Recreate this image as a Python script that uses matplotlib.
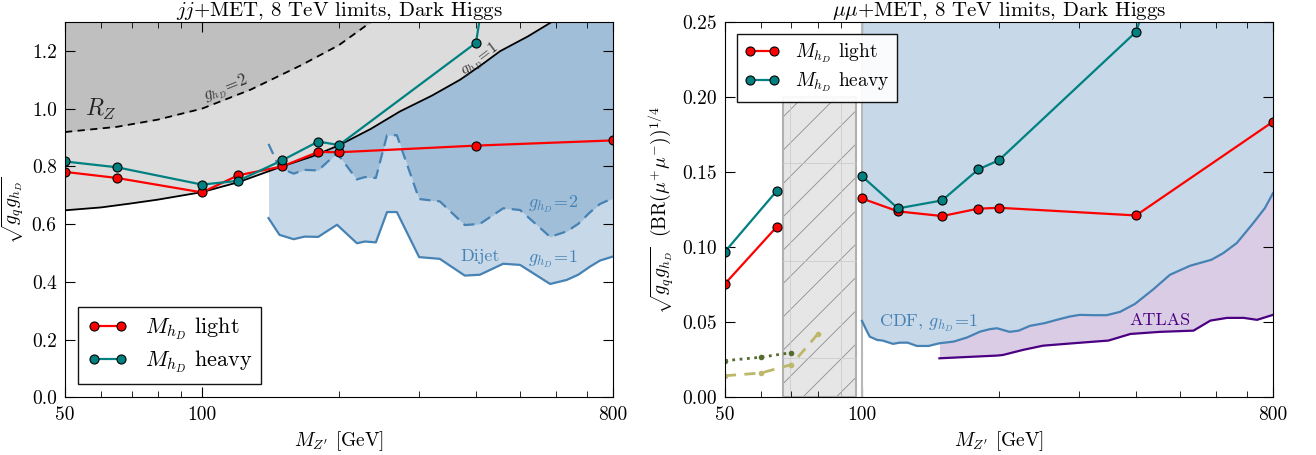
import numpy as np
import matplotlib
matplotlib.use('Agg')
import matplotlib.pyplot as plt
from matplotlib.ticker import FixedLocator, NullFormatter, FormatStrFormatter

plt.rcParams['font.family'] = ['cmr10']
plt.rcParams['mathtext.fontset'] = 'cm'
plt.rcParams['axes.formatter.use_mathtext'] = True
plt.rcParams['hatch.linewidth'] = 0.6

# --- jj+MET panel ---
mass_light = np.array([50, 65, 100, 120, 150, 180, 200, 400, 800])
jj_light = np.array([0.781, 0.760, 0.710, 0.769, 0.800, 0.850, 0.849, 0.872, 0.890])
mass_heavy = np.array([50, 65, 100, 120, 150, 180, 200, 400, 500])
jj_heavy = np.array([0.817, 0.797, 0.737, 0.750, 0.821, 0.886, 0.874, 1.228, 2.2])

# R_Z bound, g_hD = 1 (solid) and g_hD = 2 (dashed)
rz1_m = [50, 60, 70, 80, 100, 120, 150, 175, 200, 235, 272, 320, 369, 410, 452, 520, 591, 600]
rz1_v = [0.648, 0.658, 0.672, 0.685, 0.711, 0.745, 0.800, 0.835, 0.873, 0.930, 0.990,
         1.045, 1.100, 1.150, 1.199, 1.250, 1.303, 1.31]
rz2_m = [50, 65, 80, 100, 128, 165, 200, 240]
rz2_v = [0.919, 0.937, 0.962, 1.000, 1.066, 1.150, 1.220, 1.310]

# dijet limits
dij_m = [140, 148, 159, 168, 180, 198, 219, 228, 241, 255, 268, 300, 333, 378, 408,
         459, 500, 582, 633, 671, 712, 749, 800]
dij_g1 = [0.621, 0.563, 0.548, 0.557, 0.556, 0.598, 0.534, 0.540, 0.537, 0.642, 0.642,
          0.486, 0.480, 0.422, 0.425, 0.463, 0.459, 0.393, 0.407, 0.425, 0.453, 0.474, 0.488]
dij_g2 = [0.878, 0.795, 0.775, 0.788, 0.786, 0.846, 0.755, 0.763, 0.760, 0.908, 0.908,
          0.687, 0.679, 0.597, 0.601, 0.655, 0.649, 0.556, 0.575, 0.601, 0.641, 0.670, 0.690]

# --- mumu+MET panel ---
mu_light = np.array([0.0757, 0.1137, 0.1325, 0.1239, 0.1208, 0.1257, 0.1263, 0.1212, 0.1836])
mu_heavy = np.array([0.0971, 0.1376, 0.1473, 0.1259, 0.1312, 0.1518, 0.1580, 0.2434, 0.33])

cdf_m = [100, 102, 104, 108, 111, 117, 121, 126, 132, 140, 148, 159, 170, 182, 191, 198,
         211, 221, 234, 252, 268, 286, 301, 322, 345, 369, 398, 437, 475, 526, 586, 622,
         666, 724, 768, 800]
cdf_v = [0.051, 0.0455, 0.0405, 0.0383, 0.0379, 0.0357, 0.0365, 0.0365, 0.0343, 0.0343,
         0.0361, 0.0372, 0.0399, 0.0439, 0.0455, 0.0461, 0.0437, 0.0445, 0.0477, 0.0495,
         0.0517, 0.0539, 0.0550, 0.0548, 0.0548, 0.0570, 0.0623, 0.0721, 0.0817, 0.0877,
         0.0917, 0.0961, 0.1028, 0.1161, 0.1261, 0.136]
atlas_m = [148, 198, 204, 226, 250, 291, 348, 389, 452, 535, 583, 634, 690, 738, 800]
atlas_v = [0.0261, 0.0279, 0.0283, 0.0317, 0.0345, 0.0361, 0.0379, 0.0423, 0.0437,
           0.0445, 0.0512, 0.0530, 0.0530, 0.0517, 0.0550]

green_m = [50, 60, 70]
green_v = [0.0245, 0.0268, 0.0299]
khaki_m = [50, 60, 70, 80]
khaki_v = [0.0145, 0.0163, 0.0219, 0.0423]

excl_m = [67, 97]        # hatched Z-pole window
excl_top = 0.20
excl_grid_h = [0.026, 0.091, 0.156]
excl_grid_v = [69.5, 90]

xticks = [50, 100, 800]
xminor = [60, 70, 80, 90, 200, 300, 400, 500, 600, 700]


def style_axis(ax, ymax, fmt):
    ax.set_xscale('log')
    ax.set_xlim(50, 800)
    ax.set_ylim(0, ymax)
    ax.xaxis.set_major_locator(FixedLocator(xticks))
    ax.set_xticklabels([str(t) for t in xticks])
    ax.xaxis.set_minor_locator(FixedLocator(xminor))
    ax.xaxis.set_minor_formatter(NullFormatter())
    ax.yaxis.set_major_formatter(FormatStrFormatter(fmt))
    ax.tick_params(which='both', direction='in', top=True, right=True, labelsize=14)
    ax.tick_params(which='major', length=7, pad=6)
    ax.tick_params(which='minor', length=4)
    ax.set_xlabel(r'$M_{Z^\prime}$ [GeV]', fontsize=14)


def make_legend(ax, loc, size):
    leg = ax.legend(loc=loc, numpoints=2, fontsize=size, fancybox=False, edgecolor='black',
                    framealpha=0.92, handlelength=1.8, labelspacing=0.3,
                    borderaxespad=0.6)
    leg.get_frame().set_linewidth(1.0)


fig = plt.figure(figsize=(13.16, 4.55), dpi=100)
ax1 = fig.add_axes([0.0494, 0.1264, 0.4164, 0.8253])
ax2 = fig.add_axes([0.5509, 0.1264, 0.4164, 0.8253])

# left panel
ax1.fill_between(dij_m, dij_g1, 1.3, color='steelblue', alpha=0.3, lw=0)
ax1.fill_between(dij_m, dij_g2, 1.3, color='steelblue', alpha=0.3, lw=0)
ax1.fill_between(rz1_m, rz1_v, 1.4, color='#dcdcdc', lw=0)
ax1.fill_between(rz2_m, rz2_v, 1.4, color='#bfbfbf', lw=0)
ax1.plot(rz1_m, rz1_v, 'k-', lw=1.3)
ax1.plot(rz2_m, rz2_v, 'k--', lw=1.3, dashes=(4, 3))
ax1.plot(dij_m, dij_g1, color='steelblue', lw=1.6)
ax1.plot(dij_m, dij_g2, color='steelblue', lw=1.6, dashes=(5, 3))
ax1.plot(mass_light, jj_light, '-o', color='red', lw=1.6, ms=6.5, mec='black', mew=0.8,
         label=r'$M_{h_D}$ light')
ax1.plot(mass_heavy, jj_heavy, '-o', color='teal', lw=1.6, ms=6.5, mec='black', mew=0.8,
         label=r'$M_{h_D}$ heavy')
ax1.text(60, 0.997, r'$R_Z$', fontsize=17, ha='center', va='center', color='#222222')
ax1.text(113, 1.07, r'$g_{h_D}\!=\!2$', fontsize=12, ha='center', va='center',
         rotation=22, color='#333333')
ax1.text(408, 1.168, r'$g_{h_D}\!=\!1$', fontsize=11.5, ha='center', va='center',
         rotation=37, color='#333333')
ax1.text(408, 0.488, 'Dijet', fontsize=13, ha='center', va='center', color='steelblue')
ax1.text(590, 0.477, r'$g_{h_D}\!=\!1$', fontsize=13, ha='center', va='center', color='steelblue')
ax1.text(590, 0.667, r'$g_{h_D}\!=\!2$', fontsize=13, ha='center', va='center', color='steelblue')
style_axis(ax1, 1.3, '%.1f')
ax1.set_ylabel(r'$\sqrt{g_q g_{h_D}}$', fontsize=14)
ax1.set_title(r'$jj$+MET, 8 TeV limits, Dark Higgs', fontsize=15, pad=3)
make_legend(ax1, 'lower left', 16)

# right panel
ax2.fill_between(atlas_m, atlas_v, 0.25, color='indigo', alpha=0.2, lw=0)
ax2.fill_between(cdf_m, cdf_v, 0.25, color='#c7d8e8', lw=0)
ax2.axvline(100, color='#b8b8b8', lw=1.5)
ax2.fill_between(excl_m, 0, excl_top, facecolor='#e6e6e6', edgecolor='#8c8c8c', hatch='/', lw=0)
for yv in excl_grid_h:
    ax2.plot(excl_m, [yv, yv], color='#cccccc', lw=0.6)
for xv in excl_grid_v:
    ax2.plot([xv, xv], [0, excl_top], color='#cccccc', lw=0.6)
ax2.fill_between(excl_m, 0, excl_top, facecolor='none', edgecolor='#b0b0b0', lw=1.5)
ax2.plot(atlas_m, atlas_v, color='indigo', lw=1.6)
ax2.plot(cdf_m, cdf_v, color='steelblue', lw=1.6)
ax2.plot(green_m, green_v, ':', color='darkolivegreen', lw=2, marker='o', ms=4, mec='none')
ax2.plot(khaki_m, khaki_v, '--', color='darkkhaki', lw=2, marker='o', ms=4, mec='none',
         dashes=(4, 3))

for m, v, c, lab in [(mass_light, mu_light, 'red', r'$M_{h_D}$ light'),
                     (mass_heavy, mu_heavy, 'teal', r'$M_{h_D}$ heavy')]:
    low = m < 70
    ax2.plot(m[low], v[low], '-o', color=c, lw=1.6, ms=6.5, mec='black', mew=0.8)
    ax2.plot(m[~low], v[~low], '-o', color=c, lw=1.6, ms=6.5, mec='black', mew=0.8, label=lab)

ax2.text(140, 0.0495, r'CDF, $g_{h_D}\!=\!1$', fontsize=13, ha='center', va='center',
         color='steelblue')
ax2.text(452, 0.0512, 'ATLAS', fontsize=13, ha='center', va='center', color='indigo')
style_axis(ax2, 0.25, '%.2f')
ax2.set_ylabel(r'$\sqrt{g_q g_{h_D}}\ \ (\mathrm{BR}(\mu^{+}\mu^{-}))^{1/4}$', fontsize=14)
ax2.set_title(r'$\mu\mu$+MET, 8 TeV limits, Dark Higgs', fontsize=15, pad=3)
make_legend(ax2, 'upper left', 14)

fig.savefig('out.png', dpi=100)
